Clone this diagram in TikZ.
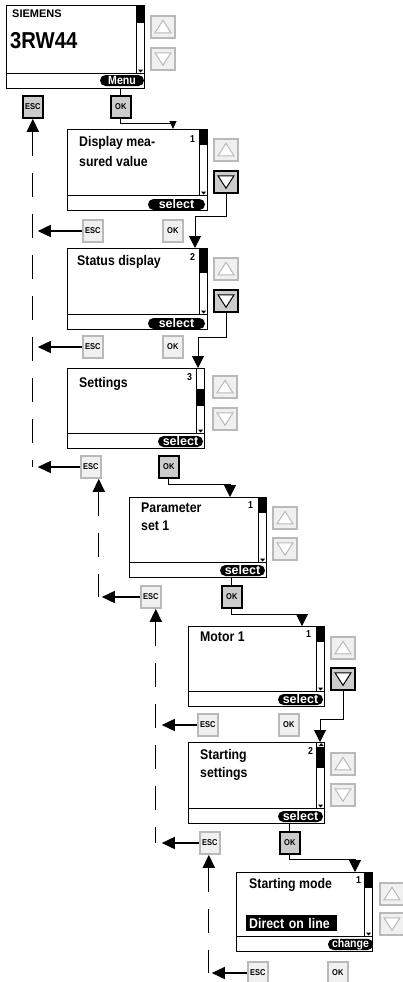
\documentclass[tikz,border=0pt]{standalone}
\usepackage{fontspec}
\setmainfont{Liberation Sans}
\newfontfamily\narrowfont[FakeStretch=0.88]{Liberation Sans}
\usetikzlibrary{arrows.meta,positioning}
\tikzset{
  tricol/.store in=\tricol, tricol=gray!55,
  scr/.style={draw,line width=1.2pt,rectangle,anchor=north west,inner sep=0pt,
    minimum width=137pt,minimum height=80pt,
    path picture={
      \draw[line width=1pt] ([yshift=15pt]path picture bounding box.south west) -- ([yshift=15pt]path picture bounding box.south east);
      \draw[line width=0.8pt] ([xshift=-8pt]path picture bounding box.north east) -- ([xshift=-8pt,yshift=15pt]path picture bounding box.south east);
      \fill ([xshift=-6.5pt,yshift=19pt]path picture bounding box.south east) -- ++(5pt,0pt) -- ++(-2.5pt,-3pt) -- cycle;}},
  mtxt/.style={anchor=north west,inner sep=0pt,align=left,font=\narrowfont\bfseries\fontsize{14}{18}\selectfont},
  num/.style={anchor=north east,inner sep=0pt,font=\narrowfont\bfseries\fontsize{10}{10}\selectfont},
  pill/.style={fill=black,text=white,rounded corners=5.5pt,anchor=south east,inner xsep=3pt,inner ysep=0pt,
    minimum width=45pt,minimum height=11pt,font=\narrowfont\bfseries\fontsize{12}{12}\selectfont},
  selpill/.style={pill,font=\bfseries\fontsize{12.5}{12.5}\selectfont},
  hl/.style={fill=black,text=white,anchor=north west,inner xsep=3pt,inner ysep=0pt,minimum height=16pt,
    text width=85pt,align=left,font=\narrowfont\bfseries\fontsize{14}{14}\selectfont},
  btn/.style={draw=gray!55,fill=gray!12,line width=1.6pt,rectangle,inner sep=0pt,
    minimum width=20pt,minimum height=22pt,font=\narrowfont\bfseries\fontsize{8.5}{8.5}\selectfont},
  btnon/.style={btn,draw=black,fill=gray!40},
  upbtn/.style={btn,minimum width=24pt,path picture={
      \draw[draw=\tricol,line width=1pt,fill=white] ([shift={(-8pt,-6pt)}]path picture bounding box.center) -- ([shift={(8pt,-6pt)}]path picture bounding box.center) -- ([shift={(0pt,6.5pt)}]path picture bounding box.center) -- cycle;}},
  dnbtn/.style={btn,minimum width=24pt,path picture={
      \draw[draw=\tricol,line width=1pt,fill=white] ([shift={(-8pt,6pt)}]path picture bounding box.center) -- ([shift={(8pt,6pt)}]path picture bounding box.center) -- ([shift={(0pt,-6.5pt)}]path picture bounding box.center) -- cycle;}},
  dnon/.style={dnbtn,draw=black,fill=gray!40,tricol=black},
  arr/.style={-{Triangle[length=13pt,width=12pt]},line width=1.6pt},
  conn/.style={-{Triangle[length=12pt,width=12pt]},line width=1pt},
  dsh/.style={line width=1.2pt,dash pattern=on 24pt off 17pt}
}

\begin{document}
\begin{tikzpicture}[x=1pt,y=-1pt]
  \useasboundingbox (0,0) rectangle (403,982);

  \node[scr,minimum width=138pt,minimum height=83pt] (s1) at (6,5) {};
  \node[scr,minimum width=140pt,minimum height=81pt] (s2) at (67,129) {};
  \node[scr,minimum width=140pt,minimum height=81pt] (s3) at (67,248) {};
  \node[scr] (s4) at (67,368) {};
  \node[scr] (s5) at (129,497) {};
  \node[scr,minimum width=136pt] (s6) at (188,626) {};
  \node[scr,minimum width=136pt,minimum height=81pt] (s7) at (188,742) {};
  \node[scr,minimum width=136pt,minimum height=79pt] (s8) at (236,872) {};

  \fill ([xshift=-8pt]s1.north east) rectangle ([yshift=-18pt]s1.north east);
  \fill ([xshift=-8pt]s2.north east) rectangle ([yshift=-16pt]s2.north east);
  \fill ([xshift=-8pt]s3.north east) rectangle ([yshift=-25pt]s3.north east);
  \fill ([xshift=-8pt,yshift=-21pt]s4.north east) rectangle ([yshift=-38pt]s4.north east);
  \fill ([xshift=-8pt]s5.north east) rectangle ([yshift=-16pt]s5.north east);
  \fill ([xshift=-8pt]s6.north east) rectangle ([yshift=-16pt]s6.north east);
  \fill ([xshift=-8pt,yshift=-5pt]s7.north east) rectangle ([yshift=-26pt]s7.north east);
  \fill ([xshift=-6.5pt,yshift=-4pt]s7.north east) -- ++(5pt,0pt) -- ++(-2.5pt,3pt) -- cycle;
  \fill ([xshift=-8pt]s8.north east) rectangle ([yshift=-16pt]s8.north east);

  \node[mtxt,font=\bfseries\fontsize{11}{11}\selectfont,below right=5pt and 6pt of s1.north west] (siemens) {SIEMENS};
  \node[mtxt,font=\narrowfont\bfseries\fontsize{23}{23}\selectfont,below right=27pt and 4pt of s1.north west] (rw44) {3RW44};
  \node[pill,minimum width=44pt,above left=3pt and 1pt of s1.south east] (menu) {Menu};

  \node[mtxt,below right=7pt and 12pt of s2.north west] (t2) {Display mea-\\[2pt]sured value};
  \node[num,below left=6pt and 13pt of s2.north east] (n2) {1};
  \node[selpill,minimum width=57pt,above left=1pt and 3pt of s2.south east] (p2) {select};

  \node[mtxt,below right=7pt and 10pt of s3.north west] (t3) {Status display};
  \node[num,below left=5pt and 13pt of s3.north east] (n3) {2};
  \node[selpill,minimum width=57pt,above left=1pt and 3pt of s3.south east] (p3) {select};

  \node[mtxt,below right=9pt and 12pt of s4.north west] (t4) {Settings};
  \node[num,below left=5pt and 13pt of s4.north east] (n4) {3};
  \node[selpill,above left=2pt and 2pt of s4.south east] (p4) {select};

  \node[mtxt,below right=6pt and 12pt of s5.north west] (t5) {Parameter\\set 1};
  \node[num,below left=4pt and 14pt of s5.north east] (n5) {1};
  \node[selpill,above left=2pt and 2pt of s5.south east] (p5) {select};

  \node[mtxt,below right=6pt and 12pt of s6.north west] (t6) {Motor 1};
  \node[num,below left=4pt and 14pt of s6.north east] (n6) {1};
  \node[selpill,above left=2pt and 2pt of s6.south east] (p6) {select};

  \node[mtxt,below right=7pt and 12pt of s7.north west] (t7) {Starting\\settings};
  \node[num,below left=5pt and 12pt of s7.north east] (n7) {2};
  \node[selpill,above left=2pt and 2pt of s7.south east] (p7) {select};

  \node[mtxt,below right=6pt and 13pt of s8.north west] (t8) {Starting mode};
  \node[num,below left=4pt and 12pt of s8.north east] (n8) {1};
  \node[hl,below right=43pt and 10pt of s8.north west] (dol) {Direct on line};
  \node[pill,above left=2pt and 0pt of s8.south east] (p8) {change};

  \node[upbtn,below right=10pt and 5pt of s1.north east] (up1) {};
  \node[dnbtn,below right=42pt and 5pt of s1.north east] (dn1) {};
  \node[upbtn,below right=9pt and 5pt of s2.north east] (up2) {};
  \node[dnon,below right=41pt and 5pt of s2.north east] (dn2) {};
  \node[upbtn,below right=9pt and 5pt of s3.north east] (up3) {};
  \node[dnon,below right=41pt and 5pt of s3.north east] (dn3) {};
  \node[upbtn,below right=7pt and 7pt of s4.north east] (up4) {};
  \node[dnbtn,below right=39pt and 7pt of s4.north east] (dn4) {};
  \node[upbtn,below right=9pt and 5pt of s5.north east] (up5) {};
  \node[dnbtn,below right=40pt and 5pt of s5.north east] (dn5) {};
  \node[upbtn,below right=10pt and 5pt of s6.north east] (up6) {};
  \node[dnon,below right=41pt and 5pt of s6.north east] (dn6) {};
  \node[upbtn,below right=10pt and 5pt of s7.north east] (up7) {};
  \node[dnbtn,below right=41pt and 5pt of s7.north east] (dn7) {};
  \node[upbtn,below right=10pt and 6pt of s8.north east] (up8) {};
  \node[dnbtn,below right=40pt and 6pt of s8.north east] (dn8) {};

  \node[btnon,below right=6pt and 16pt of s1.south west] (esc1) {ESC};
  \node[btnon,below right=6pt and 104pt of s1.south west] (ok1) {OK};
  \node[btn,below right=8pt and 15pt of s2.south west] (esc2) {ESC};
  \node[btn,below right=8pt and 95pt of s2.south west] (ok2) {OK};
  \node[btn,below right=5pt and 15pt of s3.south west] (esc3) {ESC};
  \node[btn,below right=5pt and 95pt of s3.south west] (ok3) {OK};
  \node[btn,below right=6pt and 13pt of s4.south west] (esc4) {ESC};
  \node[btnon,below right=6pt and 91pt of s4.south west] (ok4) {OK};
  \node[btn,below right=7pt and 11pt of s5.south west] (esc5) {ESC};
  \node[btnon,below right=7pt and 92pt of s5.south west] (ok5) {OK};
  \node[btn,below right=6pt and 9pt of s6.south west] (esc6) {ESC};
  \node[btn,below right=6pt and 90pt of s6.south west] (ok6) {OK};
  \node[btn,below right=7pt and 11pt of s7.south west] (esc7) {ESC};
  \node[btnon,below right=7pt and 91pt of s7.south west] (ok7) {OK};
  \node[btn,below right=9pt and 11pt of s8.south west] (esc8) {ESC};
  \node[btn,below right=9pt and 91pt of s8.south west] (ok8) {OK};

  \draw[line width=1pt] (ok1.north) -- (ok1.north |- s1.south);
  \draw[conn,-{Triangle[length=8pt,width=7pt]}] (ok1.south) -- ++(0,5) -| ([xshift=106pt]s2.north west);
  \draw[conn] (dn2.south) -- ++(0,23) -| ([xshift=128pt]s3.north west);
  \draw[conn] (dn3.south) -- ++(0,25) -| ([xshift=131pt]s4.north west);
  \draw[conn] (ok4.south) -- ++(0,6) -| ([xshift=101pt]s5.north west);
  \draw[line width=1pt] (ok5.north) -- (ok5.north |- s5.south);
  \draw[conn] (ok5.south) -- ++(0,6) -| ([xshift=114pt]s6.north west);
  \draw[conn] (dn6.south) -- ++(0,29) -| ([xshift=132pt]s7.north west);
  \draw[line width=1pt] (ok7.north) -- (ok7.north |- s7.south);
  \draw[conn] (ok7.south) -- ++(0,5) -| ([xshift=119pt]s8.north west);

  \coordinate (d1) at ([yshift=-13pt]esc1.south);
  \draw[arr] (d1) -- (esc1.south);
  \draw[dsh] (d1) -- (d1 |- esc4.west);
  \draw[arr] (esc2.west) -- ([xshift=5pt]esc2.west -| d1);
  \draw[arr] (esc3.west) -- ([xshift=5pt]esc3.west -| d1);
  \draw[arr] (esc4.west) -- ([xshift=5pt]esc4.west -| d1);

  \coordinate (d2) at ([xshift=8pt,yshift=-13pt]esc4.south);
  \draw[arr] (d2) -- (d2 |- esc4.south);
  \draw[dsh] (d2) -- (d2 |- esc5.west);
  \draw[arr] (esc5.west) -- ([xshift=3pt]esc5.west -| d2);

  \coordinate (d3) at ([xshift=5pt,yshift=-13pt]esc5.south);
  \draw[arr] (d3) -- (d3 |- esc5.south);
  \draw[dsh] (d3) -- (d3 |- esc7.west);
  \draw[arr] (esc6.west) -- ([xshift=6pt]esc6.west -| d3);
  \draw[arr] (esc7.west) -- ([xshift=6pt]esc7.west -| d3);

  \coordinate (d4) at ([xshift=-1pt,yshift=-13pt]esc7.south);
  \draw[arr] (d4) -- (d4 |- esc7.south);
  \draw[dsh] (d4) -- (d4 |- esc8.west);
  \draw[arr] (esc8.west) -- ([xshift=3pt]esc8.west -| d4);
\end{tikzpicture}
\end{document}
